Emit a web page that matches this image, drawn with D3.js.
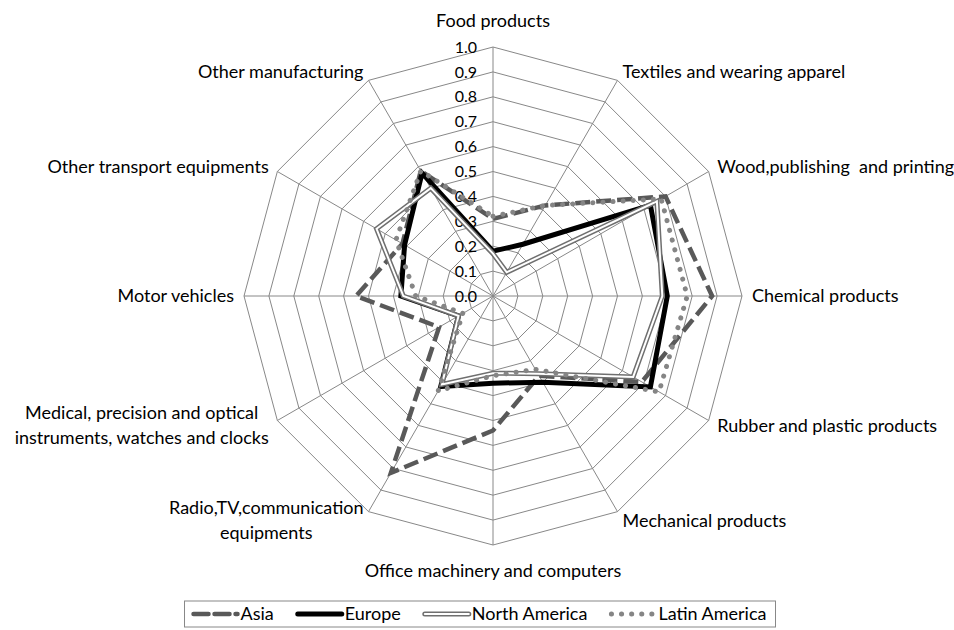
<!DOCTYPE html>
<html>
<head>
<meta charset="utf-8">
<script src="https://cdn.jsdelivr.net/npm/d3@7/dist/d3.min.js"></script>
<style>
  body { margin: 0; background: #fff; }
  text { font-family: Lato, "Open Sans", sans-serif; fill: #000; white-space: pre; }
</style>
</head>
<body>
<div id="chart"></div>
<script>
// categories, clockwise from the top; multi-line labels split into lines
const categories = [
    ["Food products"],
    ["Textiles and wearing apparel"],
    ["Wood,publishing  and printing"],
    ["Chemical products"],
    ["Rubber and plastic products"],
    ["Mechanical products"],
    ["Office machinery and computers"],
    ["Radio,TV,communication", "equipments"],
    ["Medical, precision and optical", "instruments, watches and clocks"],
    ["Motor vehicles"],
    ["Other transport equipments"],
    ["Other manufacturing"]
];

const asia         = [0.31, 0.42, 0.80, 0.88, 0.69, 0.37, 0.54, 0.82, 0.25, 0.55, 0.42, 0.58];
const europe       = [0.18, 0.24, 0.73, 0.70, 0.73, 0.40, 0.35, 0.42, 0.16, 0.37, 0.41, 0.57];
const northAmerica = [0.17, 0.11, 0.76, 0.68, 0.65, 0.36, 0.31, 0.41, 0.16, 0.36, 0.54, 0.50];
const latinAmerica = [0.32, 0.42, 0.78, 0.78, 0.77, 0.34, 0.32, 0.44, 0.14, 0.31, 0.45, 0.58];

const tickValues = [0, 0.1, 0.2, 0.3, 0.4, 0.5, 0.6, 0.7, 0.8, 0.9, 1.0];
const tickLabels = ["0.0", "0.1", "0.2", "0.3", "0.4", "0.5", "0.6", "0.7", "0.8", "0.9", "1.0"];

const seriesNames = ["Asia", "Europe", "North America", "Latin America"];

const width = 954, height = 630;
const cx = 493, cy = 296, R = 249;
const gridColor = "#888888";

const svg = d3.select("#chart")
    .append("svg")
    .attr("width", width)
    .attr("height", height);

const n = categories.length;
const r = d3.scaleLinear().domain([0, 1]).range([0, R]);
const angle = d3.scaleLinear().domain([0, n]).range([0, 2 * Math.PI]);

const chart = svg.append("g").attr("transform", `translate(${cx},${cy})`);

// grid rings
const ring = d3.lineRadial()
    .angle((d, i) => angle(i))
    .radius(d => r(d))
    .curve(d3.curveLinearClosed);

chart.selectAll(".ring")
    .data(tickValues.slice(1))
    .enter()
    .append("path")
    .attr("class", "ring")
    .attr("d", v => ring(d3.range(n).map(() => v)))
    .attr("fill", "none")
    .attr("stroke", gridColor)
    .attr("stroke-width", 1);

// spokes
chart.selectAll(".spoke")
    .data(d3.range(n))
    .enter()
    .append("line")
    .attr("class", "spoke")
    .attr("x1", 0).attr("y1", 0)
    .attr("x2", i => r(1) * Math.sin(angle(i)))
    .attr("y2", i => -r(1) * Math.cos(angle(i)))
    .attr("stroke", gridColor)
    .attr("stroke-width", 1);

// tick labels along the top spoke
chart.selectAll(".tick")
    .data(tickValues)
    .enter()
    .append("text")
    .attr("class", "tick")
    .attr("x", -16)
    .attr("y", d => -r(d))
    .attr("dy", "0.35em")
    .attr("text-anchor", "end")
    .style("font-size", "16px")
    .text((d, i) => tickLabels[i]);

// category labels
const labelGap = 10;
const lineH = 25;
categories.forEach((lines, i) => {
    const a = angle(i);
    const s = Math.sin(a), c = Math.cos(a);
    let x = (R + labelGap) * s;
    let y = -(R + labelGap) * c;
    let anchor = "middle";
    if (Math.abs(s) < 0.1) {
        y -= c * 16;
    } else {
        anchor = s > 0 ? "start" : "end";
    }
    const g = chart.append("g");
    const texts = lines.map((t, k) => g.append("text")
        .attr("y", y + (k - (lines.length - 1) / 2) * lineH)
        .attr("dy", "0.35em")
        .style("font-size", "18px")
        .text(t));
    if (lines.length > 1) {
        // lines centred on each other inside a box hugging the anchor point
        const w = d3.max(texts, t => t.node().getComputedTextLength());
        const mid = anchor === "end" ? x - w / 2 : anchor === "start" ? x + w / 2 : x;
        texts.forEach(t => t.attr("x", mid).attr("text-anchor", "middle"));
    } else {
        texts.forEach(t => t.attr("x", x).attr("text-anchor", anchor));
    }
});

// series
const line = d3.lineRadial()
    .angle((d, i) => angle(i))
    .radius(d => r(d))
    .curve(d3.curveLinearClosed);

const styles = [
    { data: asia, strokes: [{ color: "#595959", w: 4.5, dash: "15,6", cap: "butt" }] },
    { data: europe, strokes: [{ color: "#000000", w: 5, dash: null, cap: "butt" }] },
    { data: northAmerica, strokes: [
        { color: "#6f6f6f", w: 5, dash: null, cap: "butt" },
        { color: "#ffffff", w: 2, dash: null, cap: "butt" }] },
    { data: latinAmerica, strokes: [{ color: "#858585", w: 5, dash: "0.1,10", cap: "round" }] }
];

styles.forEach(s => {
    s.strokes.forEach(st => {
        chart.append("path")
            .attr("d", line(s.data))
            .attr("fill", "none")
            .attr("stroke", st.color)
            .attr("stroke-width", st.w)
            .attr("stroke-dasharray", st.dash)
            .attr("stroke-linecap", st.cap)
            .attr("stroke-linejoin", "miter");
    });
});

// legend
const legend = svg.append("g");
const sampleW = 44, itemGap = 24, legendY = 614;
let lx = 0;
seriesNames.forEach((name, i) => {
    const g = legend.append("g").attr("transform", `translate(${lx},0)`);
    styles[i].strokes.forEach(st => {
        g.append("line")
            .attr("x1", 0).attr("x2", sampleW)
            .attr("y1", legendY).attr("y2", legendY)
            .attr("stroke", st.color)
            .attr("stroke-width", st.w)
            .attr("stroke-dasharray", st.dash)
            .attr("stroke-linecap", "round");
    });
    const t = g.append("text")
        .attr("x", sampleW + 3)
        .attr("y", legendY)
        .attr("dy", "0.35em")
        .style("font-size", "18px")
        .text(name);
    lx += sampleW + 3 + t.node().getComputedTextLength() + itemGap;
});
const contentW = lx - itemGap;
const legendLeft = 480 - contentW / 2;
legend.attr("transform", `translate(${legendLeft},0)`);
svg.insert("rect", ":first-child")
    .attr("x", legendLeft - 9)
    .attr("y", 601)
    .attr("width", contentW + 18)
    .attr("height", 26)
    .attr("fill", "#fff")
    .attr("stroke", "#888888")
    .attr("stroke-width", 1);
</script>
</body>
</html>
